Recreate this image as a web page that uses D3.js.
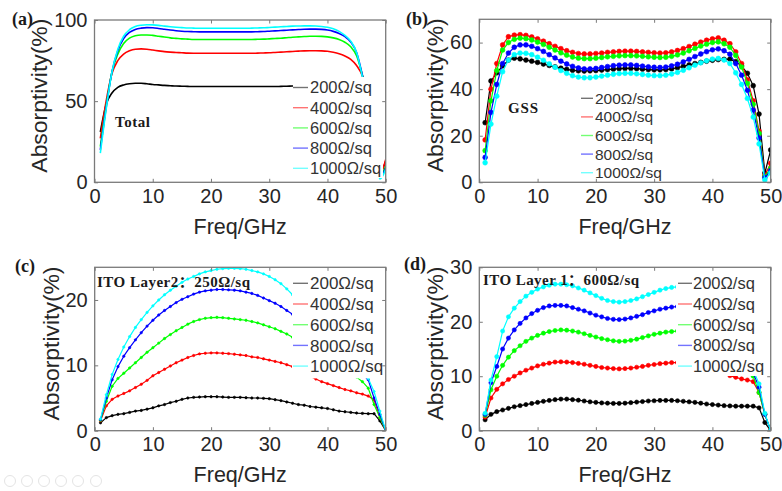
<!DOCTYPE html>
<html>
<head>
<meta charset="utf-8">
<script src="https://cdn.jsdelivr.net/npm/d3@7"></script>
<style>
  html, body { margin: 0; padding: 0; background: #ffffff; }
  svg { display: block; }
</style>
</head>
<body>
<svg id="fig" width="782" height="491"></svg>
<script>
// Frequency grid (GHz)
const freqGHz = [1,2,3,4,5,6,7,8,9,10,11,12,13,14,15,16,17,18,19,20,21,22,23,24,25,
                 26,27,28,29,30,31,32,33,34,35,36,37,38,39,40,41,42,43,44,45,46,47,48,49,50];

// Sheet resistance of the swept layer
const sheetLabels = ["200Ω/sq", "400Ω/sq", "600Ω/sq", "800Ω/sq", "1000Ω/sq"];

// Axis ticks
const freqTicks = [0, 10, 20, 30, 40, 50];
const totalTicks = [0, 50, 100];
const gssTicks = [0, 20, 40, 60];
const ito2Ticks = [0, 10, 20];
const ito1Ticks = [0, 10, 20, 30];

// (a) Total absorptivity (%)
const total200 = [31,48,55,58.5,60,60.7,61,61,60.7,60.3,60,59.7,59.5,59.3,59.2,59.1,59,59,59,59,59,59,59,59,59,
                  59,59,59,59,59,59,59.1,59.2,59.3,59.4,59.5,59.5,59.4,59.2,58.8,58.2,57.2,55.5,53,49,44,35,22,6,13];
const total400 = [27,50,67,75,79,81,82,82.2,82,81.5,81,80.5,80.2,80,79.8,79.6,79.5,79.5,79.5,79.5,79.5,79.5,79.5,79.5,79.5,
                  79.5,79.5,79.6,79.7,79.8,80,80.2,80.4,80.6,80.8,81,81.1,81.1,81,80.7,80.1,79.2,77.8,75.8,72,65.5,52,32,5,14];
const total600 = [22,47,68,79,85.5,88.8,90.3,90.8,90.8,90.5,90,89.5,89,88.7,88.4,88.2,88,88,88,88,88,88,88,88,88,
                  88,88,88.1,88.2,88.4,88.6,88.8,89.1,89.4,89.6,89.8,90,90,89.9,89.6,89,88,86.3,83.5,78,66,50,30,4,10];
const total800 = [20,46,68,81,88.5,92.3,94.2,95,95.3,95.2,94.8,94.3,93.8,93.4,93.1,92.9,92.8,92.7,92.7,92.7,92.7,92.7,92.7,92.7,92.7,
                  92.7,92.7,92.8,92.9,93.1,93.3,93.5,93.7,93.9,94.1,94.3,94.4,94.4,94.2,93.8,93,91.7,89.7,86.5,80,66,49,28,3,9];
const total1000 = [18,45,68,82,90,94,96,96.8,97.1,97,96.7,96.2,95.8,95.5,95.3,95.1,95,94.9,94.9,94.9,94.9,94.9,94.9,94.9,94.9,
                   94.9,95,95.1,95.2,95.4,95.6,95.8,96,96.2,96.3,96.4,96.4,96.3,96,95.5,94.6,93,90.5,87,80,65,48,27,2,8];

// (b) GSS absorptivity (%)
const gss200 = [25.6,43.5,47,50,52.5,53.3,53,52.5,52,51.5,50.8,50.2,49.6,49,48.5,48.1,47.9,47.8,47.9,48,48.2,48.4,48.6,48.8,48.9,
                48.9,48.8,48.6,48.4,48.3,48.3,48.4,48.7,49.2,49.8,50.4,51,51.5,52,52.4,52.7,52.8,52.9,51.8,50,46.8,41.5,29.3,4,13.9];
const gss400 = [18.2,40,51,59,62.5,63.2,63.4,63.1,62.4,61.6,60.6,59.5,58.4,57.4,56.5,55.8,55.3,55.1,55.1,55.3,55.5,55.8,56,56.2,56.3,
                56.3,56.2,56,55.8,55.6,55.5,55.6,56,56.6,57.4,58.3,59.3,60.2,61,61.6,62,61,59.5,56,51,44,35,22,3,8.2];
const gss600 = [13.6,35,48,56.8,60,61.4,61.9,61.7,61.1,60.2,59.2,58,56.8,55.6,54.6,53.8,53.3,53.1,53.1,53.3,53.6,53.9,54.1,54.3,54.4,
                54.4,54.3,54.1,53.9,53.7,53.6,53.7,54.1,54.7,55.5,56.5,57.5,58.5,59.3,60,60.3,59.5,58,54.5,49.5,42.5,33.5,21,2.5,6];
const gss800 = [10.7,30,42,51,55.5,58,59,59,58.4,57.4,56.2,54.8,53.4,52,50.8,49.8,49.1,48.7,48.7,48.9,49.3,49.7,50.1,50.3,50.4,
                50.4,50.2,49.9,49.6,49.4,49.3,49.5,50,50.7,51.7,52.8,54,55.1,56.1,56.9,57.3,56.5,55,51,46,39.5,31,19,2,5];
const gss1000 = [8.4,25,37,47.5,52.5,54.8,55.5,55.4,54.8,53.7,52.4,50.9,49.4,48,46.8,45.8,45.2,44.9,44.9,45.2,45.6,46,46.4,46.7,46.8,
                 46.8,46.6,46.3,46,45.8,45.8,46,46.5,47.2,48.1,49.2,50.3,51.3,52.2,52.9,53.2,52.5,51,47,42,36,28,16.5,1,4];

// (c) ITO layer 2 (250Ω/sq) absorptivity (%)
const ito2_200 = [1.2,2.0,2.3,2.5,2.6,2.8,3.0,3.1,3.3,3.5,3.8,4.0,4.3,4.5,4.8,5.0,5.1,5.15,5.2,5.2,5.2,5.15,5.1,5.1,5.1,
                  5.05,5.0,5.0,4.95,4.9,4.75,4.6,4.4,4.2,4.0,3.9,3.7,3.6,3.5,3.4,3.2,3.0,2.9,2.8,2.7,2.65,2.6,2.6,1.5,0];
const ito2_400 = [1.5,3.8,4.8,5.3,5.7,6.1,6.6,7.1,7.7,8.4,8.9,9.4,9.9,10.4,10.8,11.2,11.5,11.75,11.85,11.9,11.9,11.85,11.8,11.7,11.6,
                  11.5,11.3,11.2,11.0,10.8,10.6,10.4,10.1,9.8,9.3,8.8,8.3,7.9,7.5,7.2,6.9,6.6,6.3,6.1,5.8,5.6,5.3,4.7,2.0,0];
const ito2_600 = [1.6,4.5,6.8,8.0,8.8,9.6,10.4,11.2,12.0,12.7,13.4,14.1,14.7,15.3,15.8,16.3,16.7,17.0,17.2,17.3,17.35,17.3,17.2,17.1,17.0,
                  16.9,16.7,16.5,16.2,15.9,15.6,15.2,14.8,14.3,13.8,13.2,12.6,12.0,11.5,11.0,10.4,9.8,9.2,8.7,8.2,7.5,6.5,4.0,2.0,0];
const ito2_800 = [1.7,5.0,7.8,9.8,11.4,12.7,13.9,15.0,16.0,16.9,17.7,18.4,19.0,19.6,20.1,20.5,20.9,21.2,21.4,21.5,21.6,21.6,21.55,21.5,21.4,
                  21.2,21.0,20.7,20.3,19.9,19.5,19.0,18.4,17.8,17.0,16.2,15.3,14.5,13.7,12.9,12.1,11.3,10.5,9.8,9.1,8.6,7.8,5.0,2.5,0];
const ito2_1000 = [1.8,5.5,8.6,10.9,12.8,14.4,15.8,17.0,18.1,19.1,20.0,20.8,21.5,22.1,22.7,23.2,23.6,24.0,24.3,24.5,24.7,24.8,24.85,24.85,24.8,
                   24.7,24.5,24.3,24.0,23.6,23.1,22.5,21.7,20.8,19.8,18.7,17.6,16.5,15.4,14.3,13.3,12.3,11.4,10.5,9.7,8.9,8.0,6.0,3.0,0];

// (d) ITO layer 1 (600Ω/sq) absorptivity (%)
const ito1_200 = [2.0,3.0,3.5,3.8,4.1,4.4,4.6,4.8,5.0,5.2,5.4,5.55,5.7,5.8,5.8,5.7,5.6,5.45,5.3,5.2,5.1,5.05,5.0,5.0,5.05,
                  5.15,5.25,5.35,5.45,5.5,5.55,5.55,5.55,5.5,5.4,5.3,5.2,5.05,4.9,4.8,4.7,4.6,4.55,4.5,4.5,4.5,4.5,4.2,1.5,0];
const ito1_400 = [2.5,6.0,7.6,8.6,9.4,10.0,10.6,11.1,11.5,11.9,12.2,12.4,12.6,12.65,12.6,12.5,12.35,12.2,12.0,11.8,11.6,11.5,11.4,11.35,11.4,
                  11.5,11.65,11.8,12.0,12.15,12.3,12.4,12.5,12.5,12.4,12.3,12.1,11.8,11.5,11.2,10.9,10.5,10.1,9.8,9.5,9.3,9.0,7.0,3.0,0];
const ito1_600 = [2.8,7.5,10.0,12.0,13.5,14.7,15.6,16.4,17.0,17.5,17.9,18.2,18.4,18.5,18.45,18.3,18.1,17.8,17.5,17.2,16.9,16.7,16.5,16.4,16.45,
                  16.6,16.8,17.1,17.4,17.7,17.9,18.1,18.2,18.3,18.2,18.0,17.6,17.1,16.5,15.8,15.0,14.2,13.3,12.3,11.3,10.6,10.0,7.0,3.0,0];
const ito1_800 = [3.0,8.8,11.8,15.0,17.0,18.5,19.7,20.7,21.5,22.1,22.6,22.9,23.0,23.0,22.9,22.6,22.3,22.0,21.6,21.2,20.9,20.6,20.45,20.4,20.5,
                  20.7,21.0,21.3,21.7,22.0,22.3,22.5,22.7,22.8,22.8,22.6,22.2,21.7,21.0,20.2,19.3,18.3,17.1,15.8,14.3,12.6,10.6,8.0,3.0,0];
const ito1_1000 = [3.2,9.3,13.6,18.3,20.9,22.5,23.7,24.7,25.4,26.0,26.4,26.7,26.9,26.9,26.8,26.6,26.2,25.8,25.3,24.8,24.3,23.9,23.7,23.6,23.7,
                   23.9,24.2,24.6,25.0,25.4,25.8,26.1,26.3,26.4,26.3,26.0,25.5,24.8,24.0,23.0,22.0,20.8,19.5,18.0,16.3,14.3,11.2,8.6,3.2,0];

const seriesColors = ["#000000", "#ff0000", "#00ff00", "#0000ff", "#00ffff"];

const SANS = "'Liberation Sans', Arial, Helvetica, sans-serif";
const SERIF = "'Liberation Serif', 'Times New Roman', 'Noto Sans CJK SC', serif";
const AXIS_GRAY = "#7a7a7a";
const TEXT_DARK = "#262626";

const panels = [
  { id: "a", tag: "(a)", note: "Total", noteLen: 35, series: [total200, total400, total600, total800, total1000],
    yMax: 100, yTicks: totalTicks, box: { l: 94.5, r: 385.7, t: 20, b: 182.3 },
    smooth: true, markerR: 0, lineW: 1.6,
    tagAt: [12, 25], noteAt: [115, 127],
    legend: { l: 293, r: 383, t: 77, b: 178, y0: 87.5, dy: 20.2, lineX: [293, 308], textX: 310, fs: 16.5 } },
  { id: "b", tag: "(b)", note: "GSS", noteLen: 30, series: [gss200, gss400, gss600, gss800, gss1000],
    yMax: 70, yTicks: gssTicks, box: { l: 479.3, r: 770.7, t: 19.3, b: 182.3 },
    smooth: false, markerR: 2.4, lineW: 1.2,
    tagAt: [406, 25], noteAt: [508, 113],
    legend: { l: 578, r: 664, t: 88, b: 181, y0: 98.3, dy: 18.6, lineX: [581, 593], textX: 595, fs: 15.5 } },
  { id: "c", tag: "(c)", note: "ITO Layer2：250Ω/sq", noteLen: 153, series: [ito2_200, ito2_400, ito2_600, ito2_800, ito2_1000],
    yMax: 25, yTicks: ito2Ticks, box: { l: 94.7, r: 385.7, t: 267.3, b: 430.7 },
    smooth: false, markerR: 1.2, lineW: 1.2,
    tagAt: [15, 272], noteAt: [97, 287],
    legend: { l: 292, r: 385.7, t: 268, b: 378.4, y0: 283.3, dy: 20.7, lineX: [293, 308], textX: 310, fs: 17 } },
  { id: "d", tag: "(d)", note: "ITO Layer 1：600Ω/sq", noteLen: 156, series: [ito1_200, ito1_400, ito1_600, ito1_800, ito1_1000],
    yMax: 30, yTicks: ito1Ticks, box: { l: 479.3, r: 770.7, t: 267.3, b: 430.7 },
    smooth: false, markerR: 2.1, lineW: 1.2,
    tagAt: [404, 270], noteAt: [483, 285],
    legend: { l: 676, r: 770.7, t: 268, b: 376, y0: 283.3, dy: 20.7, lineX: [678, 692], textX: 693, fs: 16.5 } }
];

const svg = d3.select("#fig");
svg.append("rect").attr("width", 782).attr("height", 491).attr("fill", "#ffffff");

panels.forEach(p => {
  const { l, r, t, b } = p.box;
  const x = d3.scaleLinear().domain([0, 50]).range([l, r]);
  const y = d3.scaleLinear().domain([0, p.yMax]).range([b, t]);
  const g = svg.append("g").attr("class", "panel-" + p.id);

  const clipId = "clip-" + p.id;
  g.append("clipPath").attr("id", clipId)
    .append("rect").attr("x", l).attr("y", t).attr("width", r - l).attr("height", b - t);

  const plot = g.append("g").attr("clip-path", `url(#${clipId})`);
  const line = d3.line()
    .x((d, i) => x(freqGHz[i]))
    .y(d => y(d))
    .curve(p.smooth ? d3.curveMonotoneX : d3.curveLinear);

  p.series.forEach((vals, si) => {
    plot.append("path")
      .datum(vals)
      .attr("d", line)
      .attr("fill", "none")
      .attr("stroke", seriesColors[si])
      .attr("stroke-width", p.lineW)
      .attr("stroke-linejoin", "round");
    if (p.markerR > 0) {
      plot.append("g").selectAll("circle")
        .data(vals)
        .join("circle")
        .attr("cx", (d, i) => x(freqGHz[i]))
        .attr("cy", d => y(d))
        .attr("r", p.markerR)
        .attr("fill", seriesColors[si])
        .attr("stroke", seriesColors[si])
        .attr("stroke-width", 0.6);
    }
  });

  // legend with opaque background
  const lg = p.legend;
  const leg = g.append("g");
  leg.append("rect").attr("x", lg.l).attr("y", lg.t)
    .attr("width", lg.r - lg.l).attr("height", lg.b - lg.t).attr("fill", "#ffffff");
  sheetLabels.forEach((name, si) => {
    const yy = lg.y0 + si * lg.dy;
    leg.append("line").attr("x1", lg.lineX[0]).attr("x2", lg.lineX[1])
      .attr("y1", yy).attr("y2", yy)
      .attr("stroke", seriesColors[si]).attr("stroke-opacity", 0.55).attr("stroke-width", 1.4);
    leg.append("text").attr("x", lg.textX).attr("y", yy)
      .attr("dy", "0.36em")
      .attr("font-family", SANS).attr("font-size", lg.fs).attr("fill", "#333333")
      .text(name);
  });

  // axes: labelled bottom/left, inward ticks on all sides
  const tick = 3.5;
  const axB = g.append("g").attr("transform", `translate(0,${b})`)
    .call(d3.axisBottom(x).tickValues(freqTicks).tickFormat(d3.format("d"))
      .tickSizeInner(-tick).tickSizeOuter(0).tickPadding(6.5));
  const axL = g.append("g").attr("transform", `translate(${l},0)`)
    .call(d3.axisLeft(y).tickValues(p.yTicks).tickFormat(d3.format("d"))
      .tickSizeInner(-tick).tickSizeOuter(0).tickPadding(7));
  const axT = g.append("g").attr("transform", `translate(0,${t})`)
    .call(d3.axisTop(x).tickValues(freqTicks).tickFormat("")
      .tickSizeInner(-tick).tickSizeOuter(0));
  const axR = g.append("g").attr("transform", `translate(${r},0)`)
    .call(d3.axisRight(y).tickValues(p.yTicks).tickFormat("")
      .tickSizeInner(-tick).tickSizeOuter(0));
  [axB, axL, axT, axR].forEach(ax => {
    ax.select(".domain").remove();
    ax.selectAll("line").attr("stroke", AXIS_GRAY).attr("stroke-width", 1);
    ax.selectAll("text").attr("font-family", SANS).attr("font-size", 20).attr("fill", TEXT_DARK);
  });

  g.append("rect").attr("x", l).attr("y", t).attr("width", r - l).attr("height", b - t)
    .attr("fill", "none").attr("stroke", AXIS_GRAY).attr("stroke-width", 1.3);

  // axis titles
  g.append("text")
    .attr("x", (l + r) / 2).attr("y", b + 51.5)
    .attr("text-anchor", "middle")
    .attr("font-family", SANS).attr("font-size", 21.5).attr("fill", TEXT_DARK)
    .text("Freq/GHz");
  const yLabX = p.id === "a" ? l - 47.6 : l - 36;
  const yLabY = (t + b) / 2 - 5.5;
  g.append("text")
    .attr("transform", `translate(${yLabX},${yLabY}) rotate(-90)`)
    .attr("text-anchor", "middle")
    .attr("font-family", SANS).attr("font-size", 22).attr("fill", TEXT_DARK)
    .attr("textLength", 154).attr("lengthAdjust", "spacingAndGlyphs")
    .text("Absorptivity(%)");

  // panel tag and annotation
  g.append("text").attr("x", p.tagAt[0]).attr("y", p.tagAt[1])
    .attr("font-family", SERIF).attr("font-weight", "bold").attr("font-size", 18).attr("fill", "#1a1a1a")
    .text(p.tag);
  g.append("text").attr("x", p.noteAt[0]).attr("y", p.noteAt[1])
    .attr("font-family", SERIF).attr("font-weight", "bold").attr("font-size", 15).attr("fill", "#1a1a1a")
    .attr("textLength", p.noteLen).attr("lengthAdjust", "spacing")
    .text(p.note);
});

// viewer control glyphs along the lower-left edge
const ctrl = svg.append("g").attr("fill", "none").attr("stroke", "#e4e4e4").attr("stroke-width", 1);
[10, 27, 44, 61, 78, 96].forEach(cx => {
  ctrl.append("circle").attr("cx", cx).attr("cy", 481).attr("r", 5.5);
});
</script>
</body>
</html>
